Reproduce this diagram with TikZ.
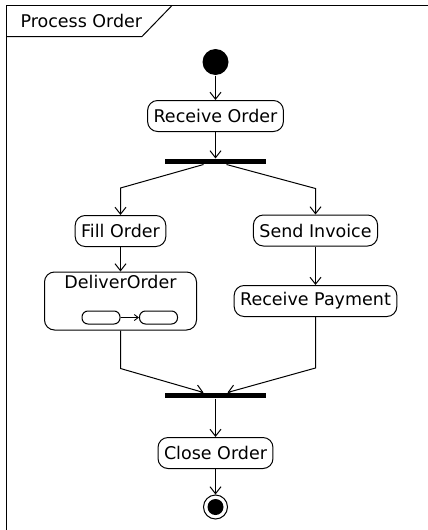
\documentclass[tikz,border=0pt]{standalone}
\usepackage{fontspec}
\setmainfont{DejaVu Sans}
\usetikzlibrary{arrows.meta}

\tikzset{
	action/.style={draw, rounded corners=10pt, minimum height=31pt, inner xsep=6pt, inner ysep=0pt},
	subaction/.style={draw, rounded corners=6pt, minimum width=38pt, minimum height=13pt, inner sep=0pt},
	bar/.style={fill=black, minimum width=101pt, minimum height=5pt, inner sep=0pt},
	flow/.style={-{Straight Barb[length=7pt,width=11pt]}}
}

\begin{document}
\begin{tikzpicture}[x=1pt, y=-1pt, line width=1pt, font=\fontsize{17.5}{21}\selectfont]
	\useasboundingbox (0,0) rectangle (428,530);
	\draw [line width=1.2pt] (6.5,5.5) rectangle (440,545);
	\draw (6.5,36.5) -- (142,36.5) -- (172,5.5);
	\node (title) [anchor=west, inner sep=0pt] at (20,21) {Process Order};

	\node (start) [circle, fill=black, minimum size=26pt, inner sep=0pt] at (215.5,62) {};
	\node (receive) [action] at (215.5,116) {Receive Order};
	\node (fork) [bar] at (215.5,161.5) {};
	\node (fill) [action] at (120.5,231) {Fill Order};
	\node (send) [action] at (315.5,230.5) {Send Invoice};
	\node (deliver) [draw, rounded corners=10pt, minimum width=152pt, minimum height=58pt,
		label={[anchor=north]north:DeliverOrder}] at (120.5,301) {};
	\node (sub1) [subaction] at (101,317.5) {};
	\node (sub2) [subaction] at (158.5,317.5) {};
	\node (payment) [action] at (315.5,301) {Receive Payment};
	\node (join) [bar] at (215.5,395.5) {};
	\node (close) [action] at (215.5,453) {Close Order};
	\node (end) [circle, draw, minimum size=24pt, inner sep=0pt] at (215.5,507) {};
	\node (endin) [circle, fill=black, minimum size=16pt, inner sep=0pt] at (end) {};

	\draw [flow] (start) -- (receive);
	\draw [flow] (receive) -- (fork);
	\draw [flow] ([xshift=-12pt]fork.south) -- ([yshift=27pt]fill.north) -- (fill.north);
	\draw [flow] ([xshift=11pt]fork.south) -- ([yshift=26pt]send.north) -- (send.north);
	\draw [flow] (fill) -- (deliver);
	\draw [-{Straight Barb[length=4pt,width=6pt]}, line width=0.9pt] (sub1) -- (sub2);
	\draw [flow] (send) -- (payment);
	\draw [flow] (deliver.south) -- ([yshift=-38pt]deliver.south) -- ([xshift=-12pt]join.north);
	\draw [flow] (payment.south) -- ([yshift=-51pt]payment.south) -- ([xshift=12pt]join.north);
	\draw [flow] (join) -- (close);
	\draw [flow] (close) -- (end);
\end{tikzpicture}
\end{document}
